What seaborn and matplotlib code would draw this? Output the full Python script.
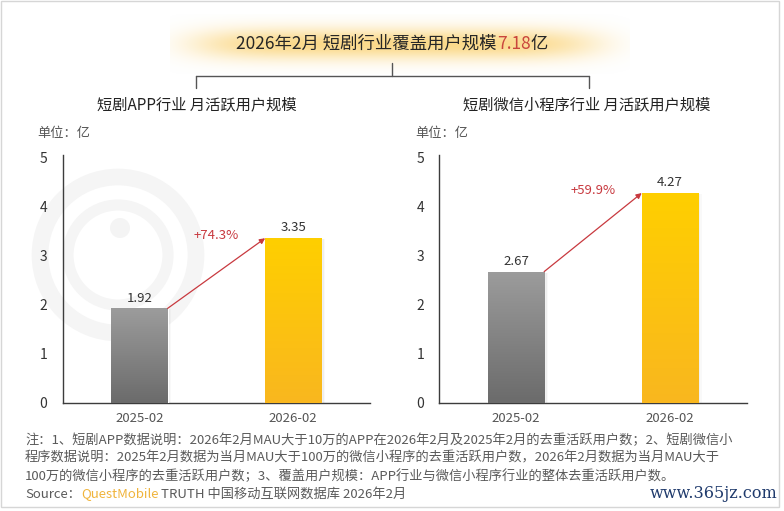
import numpy as np
import pandas as pd
import matplotlib
matplotlib.use("Agg")
import matplotlib.pyplot as plt
import seaborn as sns
from matplotlib.patches import Rectangle, Circle

# ---------------- data ----------------
periods = ["2025-02", "2026-02"]
app_values = [1.92, 3.35]
mini_values = [2.67, 4.27]
app_growth = "+74.3%"
mini_growth = "+59.9%"
y_ticks = [0, 1, 2, 3, 4, 5]
panel_titles = ["短剧APP行业 月活跃用户规模", "短剧微信小程序行业 月活跃用户规模"]
unit_label = "单位：亿"
main_title_parts = ["2026年2月 短剧行业覆盖用户规模", "7.18", "亿"]
notes = [
    "注：1、短剧APP数据说明：2026年2月MAU大于10万的APP在2026年2月及2025年2月的去重活跃用户数；2、短剧微信小",
    "程序数据说明：2025年2月数据为当月MAU大于100万的微信小程序的去重活跃用户数，2026年2月数据为当月MAU大于",
    "100万的微信小程序的去重活跃用户数；3、覆盖用户规模：APP行业与微信小程序行业的整体去重活跃用户数。",
]
source_parts = ["Source：", "QuestMobile", " TRUTH 中国移动互联网数据库 2026年2月"]

# ---------------- style ----------------
sns.set_theme(style="white")
plt.rcParams["font.family"] = ["Noto Sans CJK SC", "DejaVu Sans"]

W, H = 784, 511
fig = plt.figure(figsize=(W / 100, H / 100), dpi=100)
fig.patch.set_facecolor("white")

bg = fig.add_axes([0, 0, 1, 1])
bg.set_xlim(0, W)
bg.set_ylim(H, 0)
bg.axis("off")
bg.set_zorder(0)

# frame
bg.add_patch(Rectangle((1.5, 1.5), 777.5, 506, fill=False, ec="#d6d6d6", lw=1))

# faint logo rings (watermark)
bg.add_patch(Circle((118, 255), 78, fill=False, ec="#f5f5f5", lw=12, zorder=0))
bg.add_patch(Circle((118, 255), 50, fill=False, ec="#f5f5f5", lw=8, zorder=0))
bg.add_patch(Circle((120, 228), 10, fc="#f4f4f4", ec="none", zorder=0))

# title glow
gx = np.linspace(170, 630, 460)
gy = np.linspace(14, 74, 60)
X, Y = np.meshgrid(gx, gy)
alpha = np.exp(-((X - 395) / 200.0) ** 6) * np.exp(-((Y - 44) / 16.0) ** 2) * 0.75
glow = np.zeros((len(gy), len(gx), 4))
glow[..., 0] = 250 / 255
glow[..., 1] = 205 / 255
glow[..., 2] = 100 / 255
glow[..., 3] = alpha
bg.imshow(glow, extent=[170, 630, 74, 14], aspect="auto", zorder=1, interpolation="bilinear")
bg.set_xlim(0, W)
bg.set_ylim(H, 0)

# bracket
lc = "#555555"
bg.plot([392, 392], [63, 76], color=lc, lw=1)
bg.plot([196, 589], [76, 76], color=lc, lw=1)
bg.plot([196, 196], [76, 88], color=lc, lw=1)
bg.plot([589, 589], [76, 88], color=lc, lw=1)

renderer = fig.canvas.get_renderer()


def text_runs(x, y, runs, size, ha="left", **kw):
    texts, widths = [], []
    for s, c in runs:
        t = bg.text(0, y, s, color=c, fontsize=size, va="center", ha="left", zorder=3, **kw)
        widths.append(t.get_window_extent(renderer).width)
        texts.append(t)
    start = x - sum(widths) / 2 if ha == "center" else x
    for t, w in zip(texts, widths):
        t.set_x(start)
        start += w


text_runs(392, 44, [(main_title_parts[0], "#262626"), (main_title_parts[1], "#c9463d"),
                    (main_title_parts[2], "#262626")], 12.5, ha="center")

bg.text(196.5, 105, panel_titles[0], ha="center", va="center", fontsize=11,
        weight="medium", color="#222222", zorder=3)
bg.text(587, 105, panel_titles[1], ha="center", va="center", fontsize=11,
        weight="medium", color="#222222", zorder=3)
bg.text(37, 134, unit_label, ha="left", va="center", fontsize=9.5, color="#555555", zorder=3)
bg.text(415, 134, unit_label, ha="left", va="center", fontsize=9.5, color="#555555", zorder=3)

for i, line in enumerate(notes):
    bg.text(25, 440 + i * 18, line, ha="left", va="center", fontsize=9.5, color="#5a5a5a", zorder=3)
text_runs(25, 494, [(source_parts[0], "#5a5a5a"), (source_parts[1], "#f0b43c"),
                    (source_parts[2], "#5a5a5a")], 9.5)
bg.text(777, 494, "www.365jz.com", ha="right", va="center", fontsize=11.5,
        family="DejaVu Serif", color="#1f3a6c", zorder=3)

# ---------------- panels ----------------
bar_width = 0.365
base_colors = ["#8a8a8a", "#fec50e"]
grad_colors = [("#9c9c9c", "#6b6b6b"), ("#ffcf00", "#f9b71f")]
red = "#c8393f"


def draw_panel(rect, values, growth):
    ax = fig.add_axes(rect)
    ax.set_zorder(2)
    ax.patch.set_alpha(0)
    df = pd.DataFrame({"period": periods, "value": values})
    sns.barplot(data=df, x="period", y="value", hue="period", palette=base_colors,
                width=bar_width, saturation=1, legend=False, ax=ax, zorder=3)
    for patch, (ctop, cbot) in zip(ax.patches, grad_colors):
        x0, w, h = patch.get_x(), patch.get_width(), patch.get_height()
        t = np.array(matplotlib.colors.to_rgb(ctop))
        b = np.array(matplotlib.colors.to_rgb(cbot))
        g = np.linspace(0, 1, 256)[:, None, None]
        img = t * (1 - g) + b * g
        im = ax.imshow(img, extent=[x0, x0 + w, 0, h], aspect="auto", origin="upper", zorder=4)
        im.set_clip_path(patch)
        for k, a in enumerate([0.07, 0.045, 0.025]):
            ax.add_patch(Rectangle((x0 + w, 0), 0.008 * (k + 1), h - 0.02, color="black",
                                   alpha=a, lw=0, zorder=2))
    ax.set_xlim(-0.5, 1.5)
    ax.set_ylim(0, 5.05)
    ax.set_aspect("auto")
    for i, v in enumerate(values):
        ax.text(i, v + 0.21, f"{v:.2f}", ha="center", va="center", fontsize=9.5,
                color="#333333", zorder=5)
    ax.annotate("", xy=(1 - bar_width / 2, values[1]), xytext=(bar_width / 2, values[0]),
                arrowprops=dict(arrowstyle="-|>", color=red, lw=0.9, mutation_scale=8,
                                shrinkA=0, shrinkB=0), zorder=5)
    ax.text(0.5, values[1] + 0.055, growth, ha="center", va="center", fontsize=9.5,
            color=red, zorder=5)
    ax.set_yticks(y_ticks)
    ax.set_xlabel("")
    ax.set_ylabel("")
    ax.tick_params(axis="y", length=0, pad=11, labelsize=10, labelcolor="#333333")
    ax.tick_params(axis="x", length=0, pad=7, labelsize=9.5, labelcolor="#555555")
    sns.despine(ax=ax)
    for s in ("left", "bottom"):
        ax.spines[s].set_color("#3c3c3c")
        ax.spines[s].set_linewidth(1)
    ax.grid(False)
    return ax


ax_h = 5.05 * 49.1 / H
draw_panel([62.7 / W, (H - 402.7) / H, 307.3 / W, ax_h], app_values, app_growth)
draw_panel([439.3 / W, (H - 402.7) / H, 307.3 / W, ax_h], mini_values, mini_growth)

fig.savefig("out.png", dpi=100, facecolor="white")
